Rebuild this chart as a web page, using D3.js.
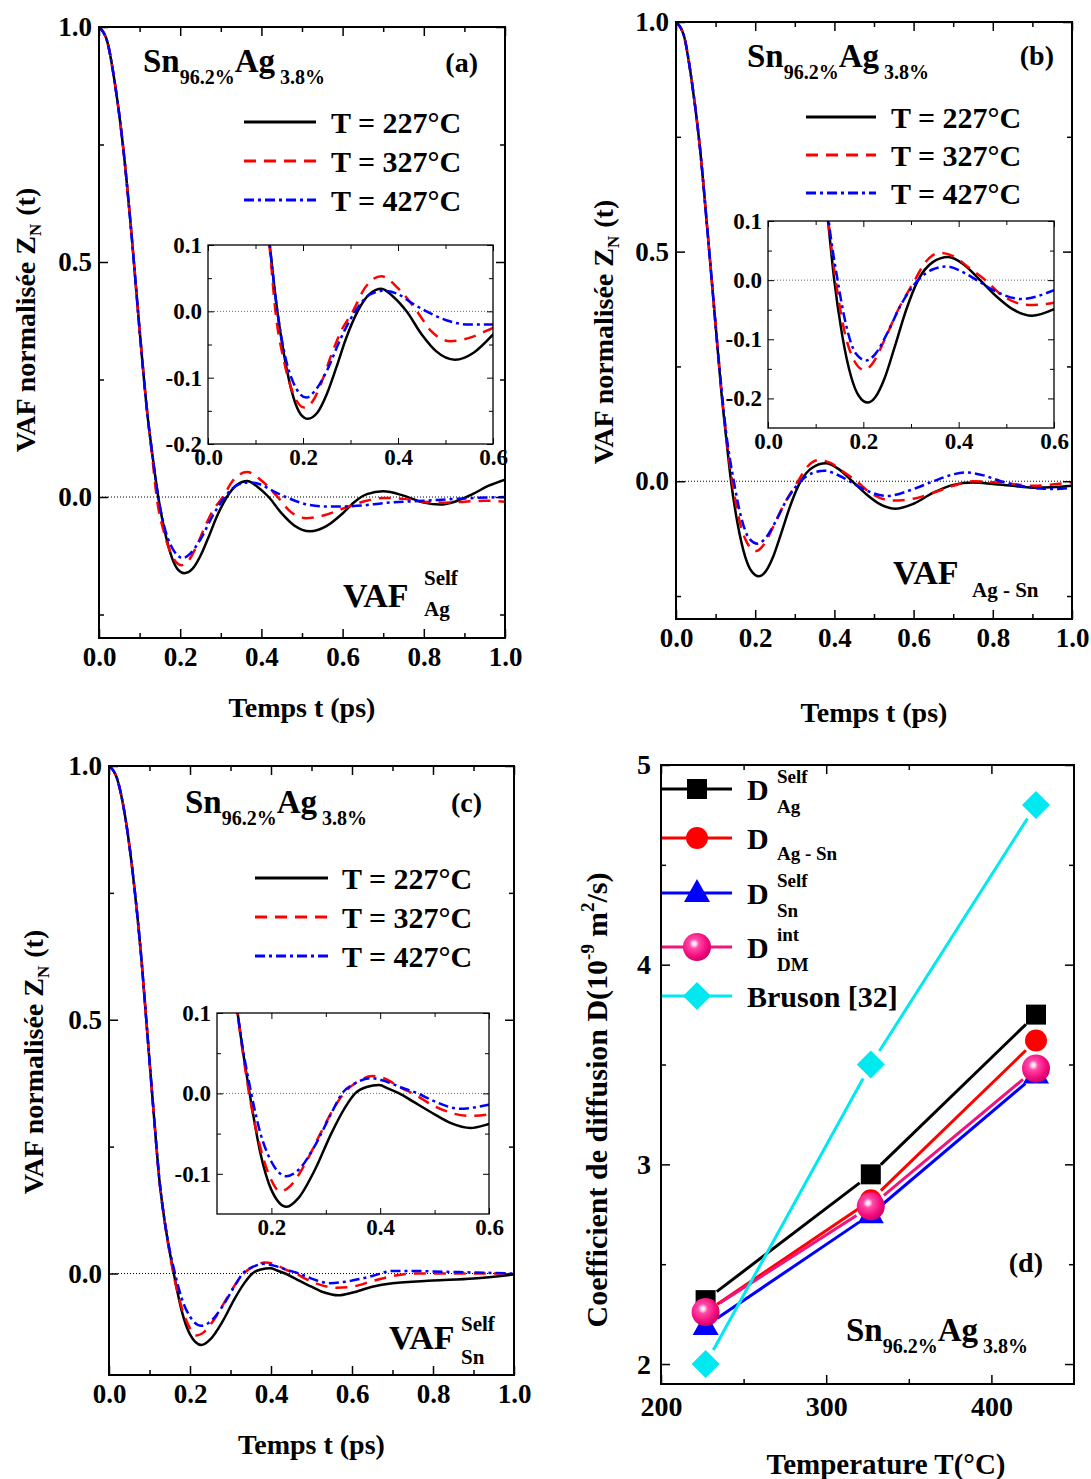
<!DOCTYPE html>
<html><head><meta charset="utf-8">
<script src="https://cdn.jsdelivr.net/npm/d3@7"></script>
<style>
body{margin:0;background:#fff}
text{font-family:"Liberation Serif","Times New Roman",serif;font-weight:bold;fill:#000;white-space:pre}
</style>
</head><body>
<svg id="c" width="1091" height="1479" xmlns="http://www.w3.org/2000/svg"></svg>
<script>
// ---------------- DATA ----------------
const legendLabels = ["T = 227°C", "T = 327°C", "T = 427°C"];
const timeTicks = [0, 0.2, 0.4, 0.6, 0.8, 1.0];
const timeMinor = [0.1, 0.3, 0.5, 0.7, 0.9];
const vafTicks = [0.0, 0.5, 1.0];
const vafMinorAB = [-0.25, 0.25, 0.75];
const vafMinorC = [0.25, 0.75];
const insetTimeTicksAB = [0, 0.2, 0.4, 0.6];
const insetTimeMinorAB = [0.1, 0.3, 0.5];
const insetTimeTicksC = [0.2, 0.4, 0.6];
const insetTimeMinorC = [0.3, 0.5];
const insetVafTicksA = [-0.2, -0.1, 0.0, 0.1];
const insetVafTicksB = [-0.2, -0.1, 0.0, 0.1];
const insetVafTicksC = [-0.1, 0.0, 0.1];
const insetVafMinor = [-0.15, -0.05, 0.05];
const insetVafMinorC = [-0.05, 0.05];

// Panel (a): VAF self Ag
const a227 = [[0,1],[0.02,0.97],[0.04,0.875],[0.06,0.74],[0.08,0.56],[0.1,0.355],[0.12,0.17],[0.13,0.1],[0.146,0],[0.16,-0.065],[0.18,-0.13],[0.195,-0.155],[0.21,-0.162],[0.23,-0.153],[0.25,-0.125],[0.27,-0.085],[0.29,-0.042],[0.315,0],[0.34,0.026],[0.365,0.034],[0.39,0.022],[0.418,0],[0.45,-0.035],[0.48,-0.06],[0.52,-0.073],[0.56,-0.062],[0.6,-0.035],[0.63,-0.01],[0.66,0.006],[0.7,0.012],[0.75,0.003],[0.8,-0.012],[0.84,-0.016],[0.88,-0.009],[0.92,0.006],[0.96,0.024],[1,0.037]];
const a327 = [[0,1],[0.02,0.97],[0.04,0.875],[0.06,0.74],[0.08,0.56],[0.1,0.355],[0.12,0.17],[0.13,0.095],[0.142,0],[0.16,-0.075],[0.18,-0.125],[0.203,-0.145],[0.22,-0.136],[0.24,-0.105],[0.26,-0.065],[0.28,-0.03],[0.305,0],[0.33,0.035],[0.365,0.053],[0.4,0.035],[0.44,0],[0.47,-0.03],[0.51,-0.045],[0.55,-0.04],[0.6,-0.025],[0.65,-0.01],[0.7,-0.002],[0.75,-0.004],[0.8,-0.01],[0.85,-0.012],[0.9,-0.01],[0.95,-0.008],[1,-0.01]];
const a427 = [[0,1],[0.02,0.97],[0.04,0.875],[0.06,0.74],[0.08,0.56],[0.1,0.355],[0.12,0.17],[0.13,0.1],[0.146,0],[0.16,-0.06],[0.18,-0.108],[0.207,-0.13],[0.225,-0.12],[0.25,-0.09],[0.28,-0.04],[0.31,0],[0.34,0.025],[0.37,0.031],[0.4,0.026],[0.43,0.012],[0.46,0],[0.5,-0.013],[0.55,-0.02],[0.6,-0.02],[0.65,-0.018],[0.7,-0.013],[0.8,-0.008],[0.9,-0.003],[1,0]];

// Panel (b): VAF Ag-Sn
const b227 = [[0,1],[0.02,0.97],[0.04,0.87],[0.06,0.73],[0.08,0.54],[0.1,0.34],[0.115,0.19],[0.126,0.1],[0.139,0],[0.155,-0.09],[0.175,-0.165],[0.19,-0.195],[0.209,-0.207],[0.225,-0.198],[0.245,-0.165],[0.265,-0.115],[0.29,-0.05],[0.315,0],[0.345,0.03],[0.378,0.039],[0.41,0.027],[0.445,0],[0.48,-0.028],[0.515,-0.05],[0.554,-0.06],[0.6,-0.049],[0.65,-0.025],[0.7,-0.008],[0.75,-0.003],[0.8,-0.006],[0.85,-0.01],[0.9,-0.014],[0.95,-0.013],[1,-0.01]];
const b327 = [[0,1],[0.02,0.97],[0.04,0.87],[0.06,0.73],[0.08,0.54],[0.1,0.34],[0.115,0.195],[0.126,0.105],[0.142,0],[0.16,-0.085],[0.18,-0.135],[0.202,-0.152],[0.22,-0.14],[0.245,-0.1],[0.27,-0.055],[0.308,0],[0.33,0.03],[0.36,0.046],[0.39,0.04],[0.42,0.022],[0.456,0],[0.49,-0.025],[0.547,-0.042],[0.6,-0.038],[0.65,-0.025],[0.7,-0.01],[0.75,0],[0.8,-0.002],[0.85,-0.006],[0.9,-0.01],[0.95,-0.007],[1,-0.002]];
const b427 = [[0,1],[0.02,0.97],[0.04,0.87],[0.06,0.73],[0.08,0.54],[0.1,0.34],[0.115,0.2],[0.126,0.11],[0.146,0],[0.165,-0.08],[0.185,-0.125],[0.206,-0.136],[0.225,-0.125],[0.25,-0.09],[0.28,-0.04],[0.315,0],[0.345,0.018],[0.375,0.023],[0.41,0.013],[0.438,0],[0.48,-0.02],[0.533,-0.032],[0.6,-0.017],[0.65,0],[0.7,0.015],[0.73,0.019],[0.78,0.012],[0.82,0],[0.87,-0.01],[0.92,-0.016],[0.96,-0.017],[1,-0.014]];

// Panel (c): VAF self Sn
const c227 = [[0,1],[0.02,0.975],[0.04,0.9],[0.06,0.78],[0.08,0.62],[0.092,0.5],[0.11,0.32],[0.125,0.18],[0.138,0.1],[0.16,0],[0.18,-0.075],[0.2,-0.12],[0.228,-0.141],[0.25,-0.13],[0.28,-0.095],[0.31,-0.05],[0.335,-0.018],[0.354,0],[0.375,0.008],[0.398,0.0103],[0.415,0.006],[0.435,0],[0.46,-0.01],[0.5,-0.026],[0.53,-0.037],[0.566,-0.043],[0.6,-0.038],[0.65,-0.026],[0.7,-0.019],[0.8,-0.014],[0.9,-0.01],[1,-0.002]];
const c327 = [[0,1],[0.02,0.975],[0.04,0.9],[0.06,0.78],[0.08,0.62],[0.092,0.5],[0.11,0.32],[0.125,0.18],[0.138,0.1],[0.159,0],[0.18,-0.068],[0.2,-0.108],[0.216,-0.122],[0.235,-0.115],[0.26,-0.09],[0.29,-0.05],[0.315,-0.018],[0.333,0],[0.36,0.015],[0.385,0.0215],[0.41,0.018],[0.435,0.008],[0.46,0],[0.5,-0.016],[0.564,-0.028],[0.6,-0.026],[0.65,-0.015],[0.7,-0.005],[0.75,0],[0.8,0],[0.9,0],[1,0]];
const c427 = [[0,1],[0.02,0.975],[0.04,0.9],[0.06,0.78],[0.08,0.62],[0.092,0.5],[0.11,0.32],[0.125,0.18],[0.138,0.1],[0.163,0],[0.18,-0.05],[0.2,-0.085],[0.228,-0.103],[0.25,-0.095],[0.28,-0.065],[0.31,-0.025],[0.33,0],[0.355,0.013],[0.382,0.019],[0.41,0.015],[0.44,0.007],[0.469,0],[0.5,-0.01],[0.546,-0.019],[0.6,-0.014],[0.65,-0.005],[0.7,0.005],[0.75,0.005],[0.8,0.004],[0.9,0.002],[1,0]];

// Panel (d): diffusion coefficients (1e-9 m^2/s)
const temperatures = [227, 327, 427];
const dSelfAg = [2.32, 2.95, 3.75];
const dAgSn   = [2.26, 2.82, 3.62];
const dSelfSn = [2.19, 2.75, 3.45];
const dIntDM  = [2.26, 2.79, 3.48];
const dBruson = [2.0, 3.5, 4.8];
const tempTicks = [200, 300, 400];
const tempMinor = [250, 350];
const dTicks = [2, 3, 4, 5];
const dMinor = [2.5, 3.5, 4.5];

// ---------------- DRAWING ----------------
const svg = d3.select('#c');
const defs = svg.append('defs');
const lineStyles = [
  {color:'#000000', dash:null},
  {color:'#ff0000', dash:'12,8'},
  {color:'#0000ff', dash:'10,4,3,4'}
];
const fmt1 = d => d3.format('.1f')(d).replace('\u2212', '-');
let clipId = 0;

function frame(g, x, y, o) {
  const [xa, xb] = x.range(), [yb, ya] = y.range();
  const mk = (axis, vals, len, fmt, pad, tr) => {
    const a = g.append('g').attr('transform', tr)
      .call(axis.tickValues(vals).tickSizeInner(len).tickSizeOuter(0).tickPadding(pad).tickFormat(fmt || (() => '')));
    a.select('.domain').remove();
    a.attr('font-family', null).attr('font-size', null);
    a.selectAll('line').attr('stroke', '#000').attr('stroke-width', o.tw);
    a.selectAll('text').attr('font-size', o.fs).style('fill', '#000');
  };
  mk(d3.axisBottom(x), o.xMaj, -o.maj, o.fx, o.padX, `translate(0,${yb})`);
  mk(d3.axisBottom(x), o.xMin, -o.min, null, 0, `translate(0,${yb})`);
  mk(d3.axisTop(x), o.xMaj, -o.maj, null, 0, `translate(0,${ya})`);
  mk(d3.axisTop(x), o.xMin, -o.min, null, 0, `translate(0,${ya})`);
  mk(d3.axisLeft(y), o.yMaj, -o.maj, o.fy, o.padY, `translate(${xa},0)`);
  mk(d3.axisLeft(y), o.yMin, -o.min, null, 0, `translate(${xa},0)`);
  mk(d3.axisRight(y), o.yMaj, -o.maj, null, 0, `translate(${xb},0)`);
  mk(d3.axisRight(y), o.yMin, -o.min, null, 0, `translate(${xb},0)`);
  g.append('rect').attr('x', xa).attr('y', ya).attr('width', xb - xa).attr('height', yb - ya)
    .attr('fill', 'none').attr('stroke', '#000').attr('stroke-width', o.bw);
}

function clipFor(x, y) {
  const id = 'clip' + (clipId++);
  const [xa, xb] = x.range(), [yb, ya] = y.range();
  defs.append('clipPath').attr('id', id).append('rect')
    .attr('x', xa).attr('y', ya).attr('width', xb - xa).attr('height', yb - ya);
  return `url(#${id})`;
}

function curves(g, x, y, data, w, dotColor) {
  const [xa, xb] = x.range();
  const cg = g.append('g').attr('clip-path', clipFor(x, y));
  cg.append('line').attr('x1', xa).attr('x2', xb).attr('y1', y(0)).attr('y2', y(0))
    .attr('stroke', dotColor).attr('stroke-width', 1).attr('stroke-dasharray', '1,2');
  const line = d3.line().x(d => x(d[0])).y(d => y(d[1])).curve(d3.curveMonotoneX);
  data.forEach((s, i) => {
    cg.append('path').attr('d', line(s)).attr('fill', 'none')
      .attr('stroke', lineStyles[i].color).attr('stroke-width', w)
      .attr('stroke-dasharray', lineStyles[i].dash);
  });
}

// rich text: parts placed sequentially, returns width
function rich(g, x, y, parts) {
  let cx = x;
  parts.forEach(p => {
    cx += (p.dx || 0);
    const t = g.append('text').attr('x', cx).attr('y', y + (p.dy || 0)).attr('font-size', p.s).text(p.t);
    cx += t.node().getComputedTextLength();
  });
  return cx - x;
}

function rotatedTitle(cx, cy, parts) {
  const g = svg.append('g');
  const inner = g.append('g');
  const w = rich(inner, 0, 0, parts);
  inner.attr('transform', `translate(${-w / 2},0)`);
  g.attr('transform', `translate(${cx},${cy}) rotate(-90)`);
}

function centeredText(cx, y, parts) {
  const g = svg.append('g');
  const w = rich(g, 0, y, parts);
  g.attr('transform', `translate(${cx - w / 2},0)`);
}

function alloyTitle(x, y, size, sub) {
  rich(svg, x, y, [
    {t: 'Sn', s: size}, {t: '96.2%', s: sub, dy: 12}, {t: 'Ag', s: size}, {t: '3.8%', s: sub, dy: 12, dx: 5}
  ]);
}

function vafPanel(p) {
  const x = d3.scaleLinear().domain([0, 1]).range(p.xr);
  const y = d3.scaleLinear().domain(p.yd).range(p.yr);
  const g = svg.append('g');
  curves(g, x, y, p.data, 2.5, '#000');
  frame(g, x, y, {xMaj: timeTicks, xMin: timeMinor, yMaj: vafTicks, yMin: p.yMin,
    fx: fmt1, fy: fmt1, fs: 27, maj: 9, min: 5, tw: 1.5, bw: 2, padX: 9, padY: 7});
  // inset
  const ix = d3.scaleLinear().domain(p.ixd).range(p.ixr);
  const iy = d3.scaleLinear().domain(p.iyd).range(p.iyr);
  const ig = svg.append('g');
  ig.append('rect').attr('x', p.ixr[0]).attr('y', p.iyr[1]).attr('width', p.ixr[1] - p.ixr[0])
    .attr('height', p.iyr[0] - p.iyr[1]).attr('fill', '#fff');
  curves(ig, ix, iy, p.data, 2.5, '#666');
  frame(ig, ix, iy, {xMaj: p.ixT, xMin: p.ixM, yMaj: p.iyT, yMin: p.iyM,
    fx: fmt1, fy: fmt1, fs: 23, maj: 6, min: 4, tw: 1, bw: 1.3, padX: 5, padY: 6});
  // legend
  p.leg.ys.forEach((ly, i) => {
    svg.append('line').attr('x1', p.leg.x1).attr('x2', p.leg.x2).attr('y1', ly).attr('y2', ly)
      .attr('stroke', lineStyles[i].color).attr('stroke-width', 3)
      .attr('stroke-dasharray', lineStyles[i].dash);
    svg.append('text').attr('x', p.leg.tx).attr('y', ly + 11).attr('font-size', 30).text(legendLabels[i]);
  });
  // axis titles
  centeredText((p.xr[0] + p.xr[1]) / 2, p.xTitleY, [{t: 'Temps t (ps)', s: 28}]);
  rotatedTitle(p.yTitleX, p.yTitleY, [{t: 'VAF normalisée Z', s: 28}, {t: 'N', s: 17, dy: 6}, {t: '(t)', s: 28, dx: 8}]);
}

// Panel (a)
vafPanel({
  xr: [99, 505], yd: [-0.3, 1], yr: [638, 27], yMin: vafMinorAB,
  data: [a227, a327, a427],
  ixd: [0, 0.6], ixr: [208, 493], iyd: [-0.2, 0.1], iyr: [444, 245],
  ixT: insetTimeTicksAB, ixM: insetTimeMinorAB, iyT: insetVafTicksA, iyM: insetVafMinor,
  leg: {x1: 244, x2: 316, ys: [122, 161, 200], tx: 331},
  xTitleY: 717, yTitleX: 35, yTitleY: 320
});
// Panel (b)
vafPanel({
  xr: [676, 1072], yd: [-0.3, 1], yr: [619, 22], yMin: vafMinorAB,
  data: [b227, b327, b427],
  ixd: [0, 0.6], ixr: [768, 1054], iyd: [-0.25, 0.1], iyr: [428, 221],
  ixT: insetTimeTicksAB, ixM: insetTimeMinorAB, iyT: insetVafTicksB, iyM: insetVafMinor,
  leg: {x1: 806, x2: 876, ys: [117, 155, 193], tx: 891},
  xTitleY: 722, yTitleX: 613, yTitleY: 332
});
// Panel (c)
vafPanel({
  xr: [109, 514], yd: [-0.2, 1], yr: [1375, 766], yMin: vafMinorC,
  data: [c227, c327, c427],
  ixd: [0.1, 0.6], ixr: [217, 489], iyd: [-0.15, 0.1], iyr: [1214, 1013],
  ixT: insetTimeTicksC, ixM: insetTimeMinorC, iyT: insetVafTicksC, iyM: insetVafMinorC,
  leg: {x1: 255, x2: 328, ys: [878, 917, 956], tx: 342},
  xTitleY: 1454, yTitleX: 43, yTitleY: 1062
});

// Titles & labels for a, b, c
alloyTitle(143, 72, 33, 20);
svg.append('text').attr('x', 478).attr('y', 72).attr('text-anchor', 'end').attr('font-size', 28).text('(a)');
rich(svg, 343, 607, [{t: 'VAF', s: 34}]);
svg.append('text').attr('x', 424).attr('y', 585).attr('font-size', 21).text('Self');
svg.append('text').attr('x', 424).attr('y', 616).attr('font-size', 21).text('Ag');

alloyTitle(747, 67, 33, 20);
svg.append('text').attr('x', 1054).attr('y', 65).attr('text-anchor', 'end').attr('font-size', 28).text('(b)');
rich(svg, 893, 584, [{t: 'VAF', s: 34}]);
svg.append('text').attr('x', 972).attr('y', 597).attr('font-size', 21).text('Ag - Sn');

alloyTitle(185, 813, 33, 20);
svg.append('text').attr('x', 482).attr('y', 812).attr('text-anchor', 'end').attr('font-size', 28).text('(c)');
rich(svg, 389, 1349, [{t: 'VAF', s: 34}]);
svg.append('text').attr('x', 461).attr('y', 1331).attr('font-size', 21).text('Self');
svg.append('text').attr('x', 461).attr('y', 1364).attr('font-size', 21).text('Sn');

// ---------------- Panel (d) ----------------
(function () {
  const x = d3.scaleLinear().domain([200, 450]).range([661, 1074]);
  const y = d3.scaleLinear().domain([1.9, 5]).range([1384, 765]);
  const g = svg.append('g');
  const grad = defs.append('radialGradient').attr('id', 'sphere').attr('cx', '40%').attr('cy', '38%').attr('r', '62%').attr('fx', '40%').attr('fy', '38%');
  grad.append('stop').attr('offset', '0%').attr('stop-color', '#ffffff');
  grad.append('stop').attr('offset', '12%').attr('stop-color', '#ffd0e8');
  grad.append('stop').attr('offset', '28%').attr('stop-color', '#ff4aa8');
  grad.append('stop').attr('offset', '70%').attr('stop-color', '#f5107f');
  grad.append('stop').attr('offset', '100%').attr('stop-color', '#d6006a');

  const marker = (sel, type, color, cx, cy) => {
    if (type === 'square') sel.append('rect').attr('x', cx - 10).attr('y', cy - 10).attr('width', 20).attr('height', 20).attr('fill', color);
    else if (type === 'circle') sel.append('circle').attr('cx', cx).attr('cy', cy).attr('r', 11).attr('fill', color);
    else if (type === 'triangle') sel.append('path').attr('d', `M${cx},${cy - 14}L${cx + 13},${cy + 9}L${cx - 13},${cy + 9}Z`).attr('fill', color);
    else if (type === 'sphere') sel.append('circle').attr('cx', cx).attr('cy', cy).attr('r', 14).attr('fill', 'url(#sphere)');
    else if (type === 'diamond') sel.append('path').attr('d', `M${cx},${cy - 14}L${cx + 14},${cy}L${cx},${cy + 14}L${cx - 14},${cy}Z`).attr('fill', color);
  };
  const ser = [
    {v: dSelfAg, color: '#000000', m: 'square', gap: 14},
    {v: dAgSn, color: '#ff0000', m: 'circle', gap: 14},
    {v: dSelfSn, color: '#0000ff', m: 'triangle', gap: 14},
    {v: dIntDM, color: '#f0147f', m: 'sphere', gap: 17},
    {v: dBruson, color: '#00e8f0', m: 'diamond', gap: 16}
  ];
  ser.forEach(s => {
    const pts = temperatures.map((t, i) => [x(t), y(s.v[i])]);
    for (let i = 0; i < pts.length - 1; i++) {
      const [x1, y1] = pts[i], [x2, y2] = pts[i + 1];
      const L = Math.hypot(x2 - x1, y2 - y1), ux = (x2 - x1) / L, uy = (y2 - y1) / L;
      g.append('line').attr('x1', x1 + ux * s.gap).attr('y1', y1 + uy * s.gap)
        .attr('x2', x2 - ux * s.gap).attr('y2', y2 - uy * s.gap)
        .attr('stroke', s.color).attr('stroke-width', 3);
    }
    pts.forEach(p => marker(g, s.m, s.color, p[0], p[1]));
  });
  frame(g, x, y, {xMaj: tempTicks, xMin: tempMinor, yMaj: dTicks, yMin: dMinor,
    fx: d3.format('d'), fy: d3.format('d'), fs: 28, maj: 9, min: 5, tw: 1.5, bw: 2, padX: 12, padY: 10});

  // legend
  const legY = [789, 838, 893, 947, 996];
  legY.forEach((ly, i) => {
    const s = ser[i];
    g.append('line').attr('x1', 662).attr('x2', 732).attr('y1', ly).attr('y2', ly).attr('stroke', s.color).attr('stroke-width', 3);
    marker(g, s.m, s.color, 697, ly);
  });
  const legSup = [['Self', 'Ag'], [null, 'Ag - Sn'], ['Self', 'Sn'], ['int', 'DM']];
  legSup.forEach((pr, i) => {
    const ly = legY[i];
    svg.append('text').attr('x', 747).attr('y', ly + 11).attr('font-size', 30).text('D');
    if (pr[0]) svg.append('text').attr('x', 777).attr('y', ly - 6).attr('font-size', 19).text(pr[0]);
    svg.append('text').attr('x', 777).attr('y', ly + (i === 1 ? 22 : 24)).attr('font-size', 19).text(pr[1]);
  });
  svg.append('text').attr('x', 747).attr('y', 1007).attr('font-size', 30).text('Bruson [32]');

  svg.append('text').attr('x', 1043).attr('y', 1272).attr('text-anchor', 'end').attr('font-size', 28).text('(d)');
  alloyTitle(846, 1341, 33, 20);

  centeredText(886, 1474, [{t: 'Temperature T(°C)', s: 29}]);
  rotatedTitle(607, 1100, [{t: 'Coefficient de diffusion D(10', s: 30}, {t: '-9', s: 19, dy: -13},
    {t: 'm', s: 30, dx: 7}, {t: '2', s: 19, dy: -13}, {t: '/s)', s: 30}]);
})();
</script>
</body></html>
